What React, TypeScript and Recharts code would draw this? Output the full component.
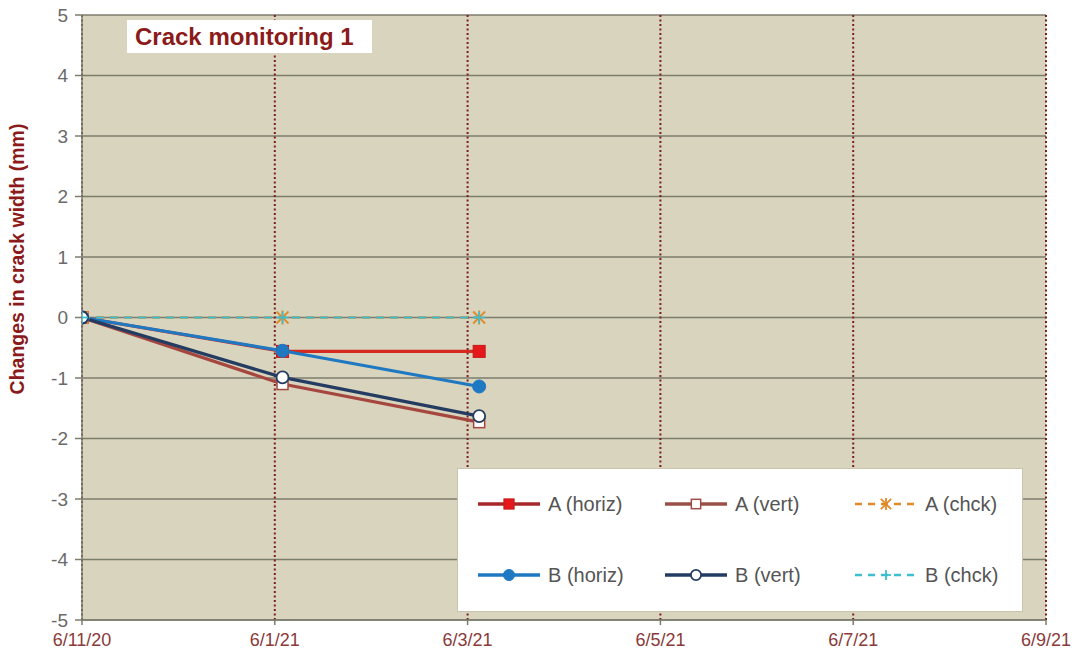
import React from "react";
import { LineChart, Line, XAxis, YAxis, CartesianGrid } from "recharts";

const dateLabels = ["6/11/20", "6/1/21", "6/3/21", "6/5/21", "6/7/21", "6/9/21"];
const xTicks = [0, 1, 2, 3, 4, 5];
const yTicks = [-5, -4, -3, -2, -1, 0, 1, 2, 3, 4, 5];
const xPos = [0, 1.04, 2.06];
const aHoriz = [0, -0.56, -0.56];
const aVert = [0, -1.1, -1.73];
const aChck = [0, 0, 0];
const bHoriz = [0, -0.55, -1.14];
const bVert = [0, -0.99, -1.63];
const bChck = [0, 0, 0];

const data = xPos.map((x, i) => ({
  x,
  aHoriz: aHoriz[i],
  aVert: aVert[i],
  aChck: aChck[i],
  bHoriz: bHoriz[i],
  bVert: bVert[i],
  bChck: bChck[i],
}));

type MarkerKind = "sqFill" | "sqOpen" | "star" | "circFill" | "circOpen" | "plus";

const Marker = ({ kind, cx, cy, color, s = 1 }: { kind: MarkerKind; cx: number; cy: number; color: string; s?: number }) => {
  switch (kind) {
    case "sqFill":
      return <rect x={cx - 6 * s} y={cy - 6 * s} width={12 * s} height={12 * s} fill="#e5191c" stroke="#c51a1a" strokeWidth={1} />;
    case "sqOpen":
      return <rect x={cx - 5.5 * s} y={cy - 5.5 * s} width={11 * s} height={11 * s} fill="#ffffff" stroke={color} strokeWidth={1.5} />;
    case "star":
      return (
        <g stroke={color} strokeWidth={1.8}>
          <line x1={cx - 6 * s} y1={cy - 6 * s} x2={cx + 6 * s} y2={cy + 6 * s} />
          <line x1={cx - 6 * s} y1={cy + 6 * s} x2={cx + 6 * s} y2={cy - 6 * s} />
          <line x1={cx} y1={cy - 7 * s} x2={cx} y2={cy + 7 * s} />
        </g>
      );
    case "circFill":
      return <circle cx={cx} cy={cy} r={6.5 * s} fill={color} stroke={color} strokeWidth={1} />;
    case "circOpen":
      return <circle cx={cx} cy={cy} r={6 * s} fill="#ffffff" stroke={color} strokeWidth={1.8} />;
    case "plus":
      return (
        <g stroke={color} strokeWidth={1.8}>
          <line x1={cx - 6 * s} y1={cy} x2={cx + 6 * s} y2={cy} />
          <line x1={cx} y1={cy - 6 * s} x2={cx} y2={cy + 6 * s} />
        </g>
      );
  }
  return null;
};

const seriesList: { key: string; name: string; color: string; legendColor: string; kind: MarkerKind; dash?: string; width: number }[] = [
  { key: "aHoriz", name: "A (horiz)", color: "#d42a20", legendColor: "#a8282a", kind: "sqFill", width: 3.2 },
  { key: "aVert", name: "A (vert)", color: "#a5463f", legendColor: "#9a5048", kind: "sqOpen", width: 3.2 },
  { key: "aChck", name: "A (chck)", color: "#e08a2a", legendColor: "#e08a2a", kind: "star", dash: "8 6", width: 2.5 },
  { key: "bHoriz", name: "B (horiz)", color: "#1e78c2", legendColor: "#1e78c2", kind: "circFill", width: 3.2 },
  { key: "bVert", name: "B (vert)", color: "#243c62", legendColor: "#243c62", kind: "circOpen", width: 3.2 },
  { key: "bChck", name: "B (chck)", color: "#3cbfd0", legendColor: "#3cbfd0", kind: "plus", dash: "8 6", width: 2 },
];

const legendCols = [478, 665, 855];
const legendRows = [504, 575];

export default function App() {
  return (
    <div style={{ position: "absolute", left: 0, top: 0, width: 1078, height: 666, background: "#ffffff" }}>
      <LineChart width={1078} height={666} data={data} margin={{ top: 15, right: 32, bottom: 0, left: 0 }}>
        <CartesianGrid vertical={false} horizontal={true} stroke="#7d7d6e" strokeWidth={1.5} fill="#d9d4bd" fillOpacity={1} />
        <CartesianGrid vertical={true} horizontal={false} stroke="#7a1f1f" strokeWidth={2} strokeDasharray="2 2.5" fill="none" />
        <XAxis
          dataKey="x"
          type="number"
          domain={[0, 5]}
          ticks={xTicks}
          tickFormatter={(v: number) => dateLabels[v]}
          height={46}
          stroke="#7d7d6e"
          strokeWidth={1.5}
          tickSize={5}
          tickMargin={8}
          tick={{ fill: "#8a3a3a", fontSize: 18, fontFamily: "'Liberation Sans Narrow', 'Liberation Sans', Arial, sans-serif" }}
          interval={0}
          allowDataOverflow
        />
        <YAxis
          type="number"
          domain={[-5, 5]}
          ticks={yTicks}
          width={82}
          stroke="#7d7d6e"
          strokeWidth={1.5}
          tickSize={7}
          tickMargin={7}
          interval={0}
          tick={{ fill: "#6a6a6a", fontSize: 19, fontFamily: "'Liberation Sans', Arial, sans-serif" }}
          label={{
            content: () => (
              <text
                x={19}
                y={259}
                transform="rotate(-90, 19, 259)"
                textAnchor="middle"
                dominantBaseline="middle"
                fill="#8b1a1a"
                fontSize={19.5}
                fontWeight="bold"
                fontFamily="'Liberation Sans', Arial, sans-serif"
              >
                Changes in crack width (mm)
              </text>
            ),
          }}
        />
        {seriesList.map((s) => (
          <Line
            key={s.key}
            dataKey={s.key}
            name={s.name}
            type="linear"
            stroke={s.color}
            strokeWidth={s.width}
            strokeDasharray={s.dash}
            isAnimationActive={false}
            activeDot={false}
            dot={(p: any) => <Marker key={`${s.key}-${p.index}`} kind={s.kind} cx={p.cx} cy={p.cy} color={s.color} />}
          />
        ))}
      </LineChart>
      <div
        style={{
          position: "absolute",
          left: 127,
          top: 20,
          width: 245,
          height: 33,
          background: "#ffffff",
          color: "#8b1a1a",
          fontFamily: "'Liberation Sans', Arial, sans-serif",
          fontWeight: "bold",
          fontSize: 24,
          lineHeight: "33px",
          paddingLeft: 8,
          boxSizing: "border-box",
          whiteSpace: "nowrap",
        }}
      >
        Crack monitoring 1
      </div>
      <div
        style={{
          position: "absolute",
          left: 457,
          top: 468,
          width: 566,
          height: 144,
          background: "#ffffff",
          border: "1px solid #c8c4b0",
          boxSizing: "border-box",
        }}
      />
      <svg style={{ position: "absolute", left: 0, top: 0, pointerEvents: "none" }} width={1078} height={666}>
        {seriesList.map((s, i) => {
          const x0 = legendCols[i % 3];
          const y = legendRows[Math.floor(i / 3)];
          return (
            <g key={s.key}>
              <line x1={x0} y1={y} x2={x0 + 62} y2={y} stroke={s.legendColor} strokeWidth={s.dash ? 2.5 : 3.5} strokeDasharray={s.dash ? "7 6" : undefined} />
              <Marker kind={s.kind} cx={x0 + 31} cy={y} color={s.legendColor} s={0.85} />
              <text x={x0 + 70} y={y} dominantBaseline="central" fill="#555555" fontSize={20} fontFamily="'Liberation Sans', Arial, sans-serif">
                {s.name}
              </text>
            </g>
          );
        })}
      </svg>
    </div>
  );
}
